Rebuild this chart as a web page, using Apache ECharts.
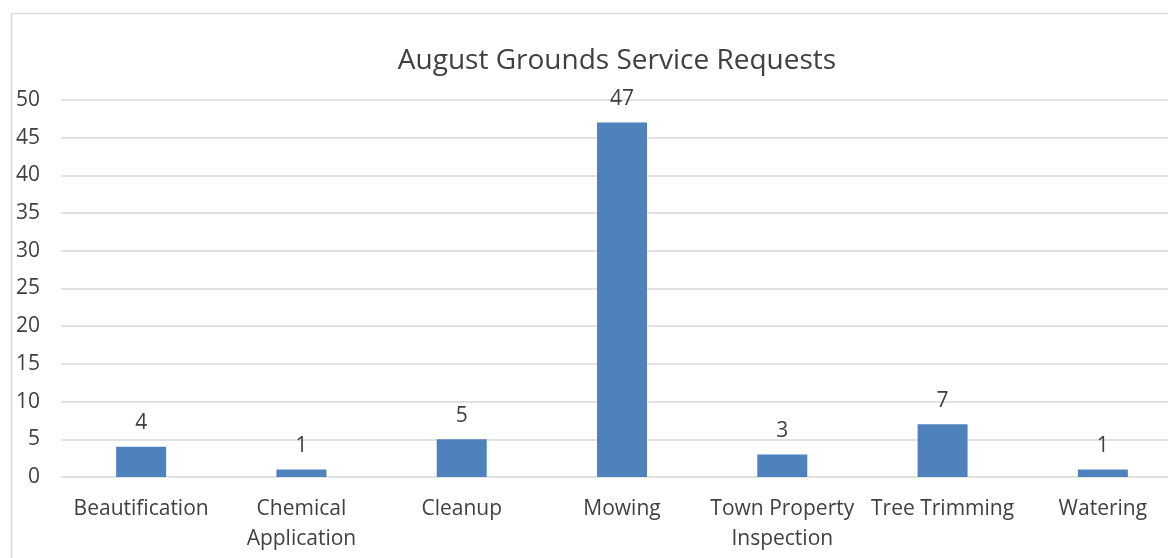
<!DOCTYPE html>
<html>
<head>
<meta charset="utf-8">
<script src="https://cdn.jsdelivr.net/npm/echarts@6/dist/echarts.min.js"></script>
<style>
  html, body { margin: 0; padding: 0; background: #fff; }
  #chart { width: 1168px; height: 558px; }
</style>
</head>
<body>
<div id="chart"></div>
<script>
const categories = ['Beautification', 'Chemical\nApplication', 'Cleanup', 'Mowing', 'Town Property\nInspection', 'Tree Trimming', 'Watering'];
const requests = [4, 1, 5, 47, 3, 7, 1];
const yTicks = { min: 0, max: 50, interval: 5 };

const textColor = '#404040';
const fontFamily = '"Open Sans", sans-serif';

const chart = echarts.init(document.getElementById('chart'));

chart.setOption({
    animation: false,
    backgroundColor: '#fff',
    title: {
        text: 'August Grounds Service Requests',
        left: 612,
        top: 42,
        textAlign: 'center',
        textStyle: { color: textColor, fontSize: 28, fontWeight: 'normal', fontFamily: fontFamily }
    },
    graphic: [{
        type: 'rect',
        shape: { x: 11.5, y: 13.5, width: 1200, height: 600 },
        style: { fill: 'none', stroke: '#d9d9d9', lineWidth: 1.5 },
        silent: true
    }],
    grid: { left: 61, width: 1122, top: 100, bottom: 81, outerBoundsMode: 'none' },
    xAxis: {
        type: 'category',
        data: categories,
        axisLine: { show: false },
        axisTick: { show: false },
        axisLabel: { color: textColor, fontSize: 21, fontFamily: fontFamily, margin: 17, lineHeight: 30, interval: 0 }
    },
    yAxis: {
        type: 'value',
        min: yTicks.min,
        max: yTicks.max,
        interval: yTicks.interval,
        axisLine: { show: false },
        axisTick: { show: false },
        splitLine: { lineStyle: { color: '#d9d9d9', width: 1.5 } },
        axisLabel: { color: textColor, fontSize: 21, fontFamily: fontFamily, margin: 21 }
    },
    series: [{
        type: 'bar',
        data: requests,
        barWidth: 50,
        itemStyle: { color: '#4f81bd' },
        label: {
            show: true,
            position: 'top',
            distance: 13,
            color: textColor,
            fontSize: 21,
            fontFamily: fontFamily
        }
    }]
});
</script>
</body>
</html>
